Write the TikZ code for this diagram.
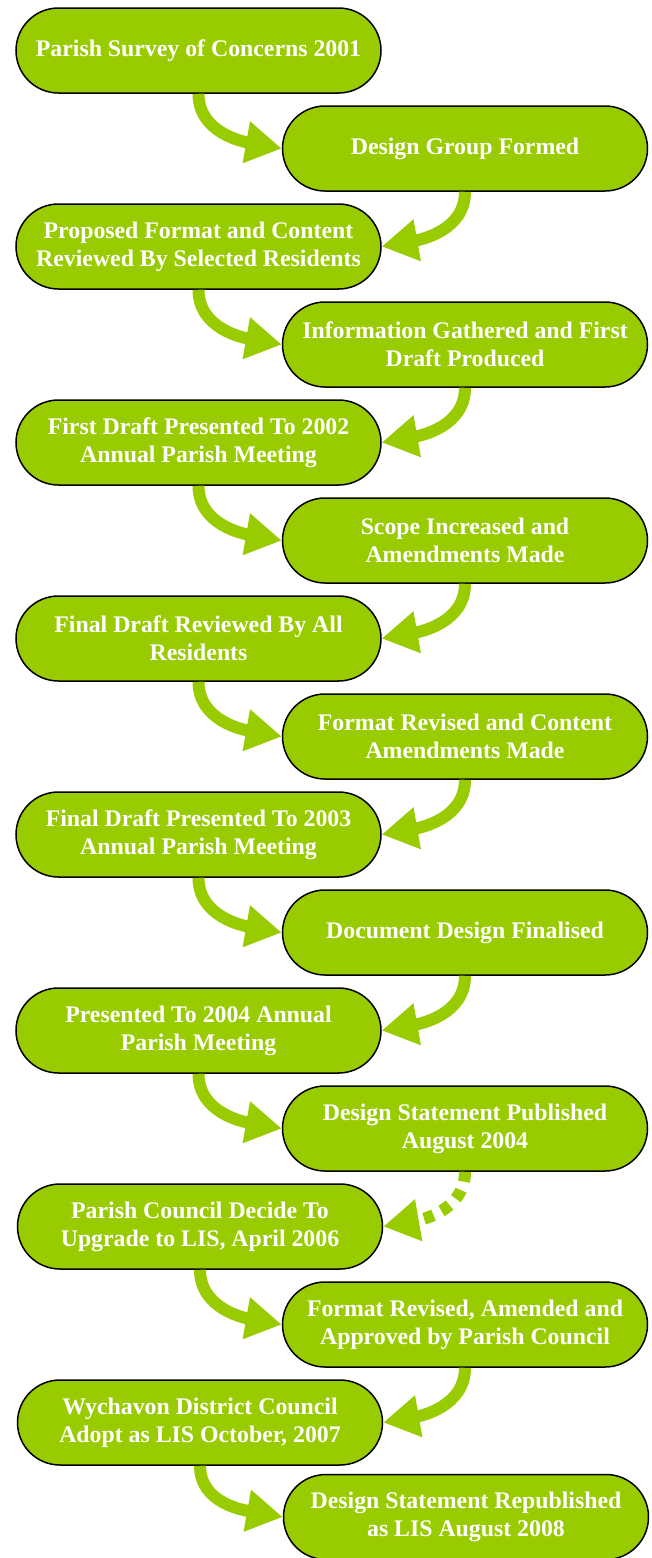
\documentclass[tikz,border=0pt]{standalone}
\usepackage{fontspec}
\setmainfont{Liberation Serif}
\usetikzlibrary{shapes.misc,arrows.meta}
\definecolor{leaf}{HTML}{99CC00}
\begin{document}
\begin{tikzpicture}[x=1pt,y=1pt,
  stage/.style={rounded rectangle, draw=black, line width=1.5pt, fill=leaf,
    minimum width=365pt, minimum height=85pt, inner sep=0pt, align=center,
    text=white, font=\fontsize{23.8}{28}\selectfont\bfseries},
  flow/.style={draw=leaf, line width=12pt,
    -{Triangle[length=36pt,width=40pt]}},
  dotflow/.style={flow, dash pattern=on 10pt off 9pt}
]
\useasboundingbox (0,0) rectangle (652,-1558);
\def\L{198.5}\def\R{465}
\node[stage] (n1) at (\L,-50.5) {Parish Survey of Concerns 2001};
\node[stage] (n2) at (\R,-148.5) {Design Group Formed};
\node[stage] (n3) at (\L,-246.5) {Proposed Format and Content\\Reviewed By Selected Residents};
\node[stage] (n4) at (\R,-344.5) {Information Gathered and First\\Draft Produced};
\node[stage] (n5) at (\L,-442.5) {First Draft Presented To 2002\\Annual Parish Meeting};
\node[stage] (n6) at (\R,-540.5) {Scope Increased and\\Amendments Made};
\node[stage] (n7) at (\L,-638.5) {Final Draft Reviewed By All\\Residents};
\node[stage] (n8) at (\R,-736.5) {Format Revised and Content\\Amendments Made};
\node[stage] (n9) at (\L,-834.5) {Final Draft Presented To 2003\\Annual Parish Meeting};
\node[stage] (n10) at (\R,-932.5) {Document Design Finalised};
\node[stage] (n11) at (\L,-1030.5) {Presented To 2004 Annual\\Parish Meeting};
\node[stage] (n12) at (\R,-1128.5) {Design Statement Published\\August 2004};
\node[stage] (n13) at (200,-1226.5) {Parish Council Decide To\\Upgrade to LIS, April 2006};
\node[stage] (n14) at (\R,-1324.5) {Format Revised, Amended and\\Approved by Parish Council};
\node[stage] (n15) at (200,-1422.5) {Wychavon District Council\\Adopt as LIS October, 2007};
\node[stage] (n16) at (466,-1517) {Design Statement Republished\\as LIS August 2008};
\draw[flow] (n1.south) to[out=-90,in=170] (n2.west);
\draw[flow] (n2.south) to[out=-90,in=10] (n3.east);
\draw[flow] (n3.south) to[out=-90,in=170] (n4.west);
\draw[flow] (n4.south) to[out=-90,in=10] (n5.east);
\draw[flow] (n5.south) to[out=-90,in=170] (n6.west);
\draw[flow] (n6.south) to[out=-90,in=10] (n7.east);
\draw[flow] (n7.south) to[out=-90,in=170] (n8.west);
\draw[flow] (n8.south) to[out=-90,in=10] (n9.east);
\draw[flow] (n9.south) to[out=-90,in=170] (n10.west);
\draw[flow] (n10.south) to[out=-90,in=10] (n11.east);
\draw[flow] (n11.south) to[out=-90,in=170] (n12.west);
\draw[dotflow] (n12.south) to[out=-90,in=10] (n13.east);
\draw[flow] (n13.south) to[out=-90,in=170] (n14.west);
\draw[flow] (n14.south) to[out=-90,in=10] (n15.east);
\draw[flow] (n15.south) to[out=-90,in=170] (n16.west);
\end{tikzpicture}
\end{document}
